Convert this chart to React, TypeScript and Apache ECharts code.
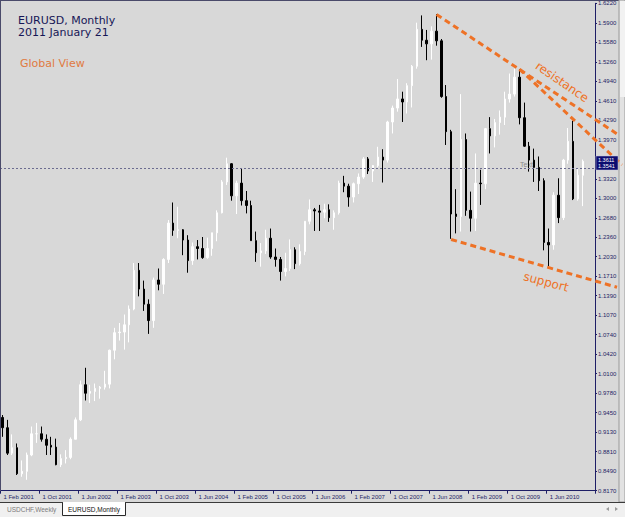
import React, { useEffect, useRef } from 'react';
import * as echarts from 'echarts';

// ---------- data ----------
const monthNames = ['Jan', 'Feb', 'Mar', 'Apr', 'May', 'Jun', 'Jul', 'Aug', 'Sep', 'Oct', 'Nov', 'Dec'];
// monthly bars from Feb 2001, two empty slots at the right edge
const categories: string[] = [];
for (let i = 0; i < 122; i++) {
  const m = (1 + i) % 12;
  const y = 2001 + Math.floor((1 + i) / 12);
  categories.push(`1 ${monthNames[m]} ${y}`);
}

const opens = [
  0.9380, 0.9210, 0.8790, 0.8880, 0.8450, 0.8490, 0.8760, 0.9110, 0.9110, 0.9020, 0.8920,
  0.8890, 0.8600, 0.8700, 0.8720, 0.9020, 0.9340, 0.9920, 0.9780, 0.9810, 0.9860, 0.9880, 0.9930,
  1.0490, 1.0780, 1.0790, 1.0910, 1.1170, 1.1810, 1.1500, 1.1250, 1.0980, 1.1650, 1.1580, 1.1990,
  1.2590, 1.2470, 1.2480, 1.2310, 1.1970, 1.2200, 1.2170, 1.2020, 1.2170, 1.2430, 1.2760, 1.3270,
  1.3570, 1.3040, 1.3250, 1.2960, 1.2880, 1.2300, 1.2100, 1.2130, 1.2340, 1.2030, 1.1990, 1.1790,
  1.1840, 1.2150, 1.1920, 1.2120, 1.2620, 1.2810, 1.2790, 1.2770, 1.2810, 1.2680, 1.2760, 1.3250,
  1.3200, 1.3020, 1.3240, 1.3350, 1.3650, 1.3450, 1.3540, 1.3680, 1.3630, 1.4260, 1.4490, 1.4640,
  1.4590, 1.4860, 1.5180, 1.5790, 1.5610, 1.5550, 1.5760, 1.5600, 1.4680, 1.4100, 1.2740, 1.2700,
  1.3970, 1.2800, 1.2670, 1.3250, 1.3240, 1.4150, 1.4030, 1.4250, 1.4340, 1.4640, 1.4720, 1.5000,
  1.4330, 1.3860, 1.3630, 1.3510, 1.3290, 1.2270, 1.2230, 1.3050, 1.2680, 1.3630, 1.3940, 1.2990,
  1.3380,
];
const highs = [
  0.9420, 0.9340, 0.9100, 0.8950, 0.8670, 0.8800, 0.9230, 0.9290, 0.9230, 0.9100, 0.9060,
  0.9030, 0.8770, 0.8840, 0.9050, 0.9380, 0.9990, 1.0200, 0.9920, 0.9940, 0.9900, 1.0150, 1.0500,
  1.0860, 1.0940, 1.1080, 1.1230, 1.1930, 1.1930, 1.1640, 1.1330, 1.1690, 1.1840, 1.2010, 1.2640,
  1.2930, 1.2860, 1.2490, 1.2390, 1.2270, 1.2310, 1.2360, 1.2350, 1.2430, 1.2800, 1.3300, 1.3670,
  1.3580, 1.3290, 1.3490, 1.3120, 1.2960, 1.2450, 1.2260, 1.2480, 1.2500, 1.2170, 1.2030, 1.2100,
  1.2320, 1.2190, 1.2240, 1.2620, 1.2980, 1.2840, 1.2890, 1.2910, 1.2900, 1.2800, 1.3290, 1.3370,
  1.3240, 1.3260, 1.3410, 1.3680, 1.3680, 1.3550, 1.3850, 1.3810, 1.4280, 1.4530, 1.4970, 1.4760,
  1.4900, 1.5200, 1.5900, 1.6020, 1.5780, 1.5840, 1.6040, 1.5630, 1.4870, 1.4130, 1.3150, 1.4720,
  1.4070, 1.3110, 1.3740, 1.3470, 1.4160, 1.4340, 1.4310, 1.4450, 1.4760, 1.5060, 1.5140, 1.5130,
  1.4580, 1.3930, 1.3820, 1.3690, 1.3330, 1.2500, 1.3100, 1.3330, 1.3650, 1.4160, 1.4280, 1.3500,
  1.3640,
];
const lows = [
  0.9060, 0.8760, 0.8760, 0.8430, 0.8400, 0.8350, 0.8740, 0.8960, 0.8980, 0.8760, 0.8760,
  0.8590, 0.8560, 0.8620, 0.8690, 0.9020, 0.9320, 0.9660, 0.9620, 0.9650, 0.9690, 0.9840, 0.9860,
  1.0340, 1.0650, 1.0500, 1.0620, 1.1150, 1.1380, 1.1140, 1.0760, 1.0860, 1.1480, 1.1420, 1.1930,
  1.2380, 1.2340, 1.2060, 1.1770, 1.1900, 1.1990, 1.2000, 1.2000, 1.2050, 1.2290, 1.2750, 1.3220,
  1.2960, 1.2740, 1.2880, 1.2750, 1.2300, 1.1950, 1.1870, 1.2080, 1.2000, 1.1870, 1.1640, 1.1710,
  1.1800, 1.1830, 1.1890, 1.2060, 1.2570, 1.2460, 1.2460, 1.2670, 1.2610, 1.2480, 1.2730, 1.3100,
  1.2860, 1.2930, 1.3070, 1.3320, 1.3400, 1.3270, 1.3510, 1.3260, 1.3590, 1.4070, 1.4430, 1.4260,
  1.4400, 1.4500, 1.5140, 1.5500, 1.5280, 1.5290, 1.5520, 1.4660, 1.3880, 1.2330, 1.2420, 1.2450,
  1.2710, 1.2450, 1.2460, 1.2890, 1.3150, 1.3740, 1.3840, 1.4050, 1.4210, 1.4580, 1.4680, 1.4220,
  1.3850, 1.3440, 1.3270, 1.3120, 1.2140, 1.1880, 1.2150, 1.2590, 1.2640, 1.3570, 1.2970, 1.2960,
  1.2870,
];
const closes = [
  0.9210, 0.8790, 0.8880, 0.8450, 0.8490, 0.8760, 0.9110, 0.9110, 0.9020, 0.8920, 0.8890,
  0.8600, 0.8700, 0.8720, 0.9020, 0.9340, 0.9920, 0.9780, 0.9810, 0.9860, 0.9880, 0.9930, 1.0490,
  1.0780, 1.0790, 1.0910, 1.1170, 1.1810, 1.1500, 1.1250, 1.0980, 1.1650, 1.1580, 1.1990, 1.2590,
  1.2470, 1.2480, 1.2310, 1.1970, 1.2200, 1.2170, 1.2020, 1.2170, 1.2430, 1.2760, 1.3270, 1.3570,
  1.3040, 1.3250, 1.2960, 1.2880, 1.2300, 1.2100, 1.2130, 1.2340, 1.2030, 1.1990, 1.1790, 1.1840,
  1.2150, 1.1920, 1.2120, 1.2620, 1.2810, 1.2790, 1.2770, 1.2810, 1.2680, 1.2760, 1.3250, 1.3200,
  1.3020, 1.3240, 1.3350, 1.3650, 1.3450, 1.3540, 1.3680, 1.3630, 1.4260, 1.4490, 1.4640, 1.4590,
  1.4860, 1.5180, 1.5790, 1.5610, 1.5550, 1.5760, 1.5600, 1.4680, 1.4100, 1.2740, 1.2700, 1.3970,
  1.2800, 1.2670, 1.3250, 1.3240, 1.4150, 1.4030, 1.4250, 1.4340, 1.4640, 1.4720, 1.5000, 1.4330,
  1.3860, 1.3630, 1.3510, 1.3290, 1.2270, 1.2230, 1.3050, 1.2680, 1.3630, 1.3940, 1.2990, 1.3380,
  1.3611,
];

const yMin = 0.817;
const yMax = 1.622;
const yStep = 0.0322;
// the tick at 1.3644 is hidden under the price box in the reference
const yTickLabels = [
  '0.8170', '0.8490', '0.8810', '0.9130', '0.9450', '0.9780', '1.0100', '1.0420', '1.0740',
  '1.1070', '1.1390', '1.1710', '1.2030', '1.2360', '1.2680', '1.3000', '1.3320', '',
  '1.3970', '1.4290', '1.4610', '1.4940', '1.5260', '1.5580', '1.5900', '1.6220',
];

const bidPrice = '1.3611';
const hLinePrice = 1.3541;

// trend lines (anchor points in data space)
const resistanceOuter: [string, number][] = [['1 Jul 2008', 1.6035], ['1 Nov 2010', 1.4543]];
const resistanceInner: [string, number][] = [['1 Dec 2009', 1.5134], ['1 Nov 2010', 1.4307]];
const supportLine: [string, number][] = [['1 Oct 2008', 1.2319], ['1 Jun 2010', 1.1855]];

const NAVY = '#1e1e66';
const ORANGE = '#ee7226';
const LABEL_FONT = 'Liberation Sans';

export default function App() {
  const ref = useRef<HTMLDivElement>(null);

  useEffect(() => {
    if (!ref.current) return;
    const chart = echarts.init(ref.current, undefined, { renderer: 'svg' });

    const ohlc = opens.map((o, i) => [o, closes[i], lows[i], highs[i]]);
    const showTick = (idx: number) => idx % 8 === 0 && idx <= 112;

    chart.setOption({
      animation: false,
      backgroundColor: '#d8d8d8',
      grid: { left: 0, right: 30, top: 3.3, bottom: 26.3 },
      xAxis: {
        type: 'category',
        data: categories,
        boundaryGap: true,
        axisLine: { show: true, lineStyle: { color: NAVY, width: 1 } },
        axisTick: { show: true, interval: showTick, length: 3, lineStyle: { color: NAVY } },
        axisLabel: {
          show: true,
          interval: showTick,
          align: 'left',
          margin: 3,
          fontSize: 6,
          fontFamily: LABEL_FONT,
          color: NAVY,
          padding: [0, 0, 0, 1],
        },
        splitLine: { show: false },
      },
      yAxis: {
        type: 'value',
        position: 'right',
        min: yMin,
        max: yMax,
        interval: yStep,
        axisLine: { show: true, lineStyle: { color: NAVY, width: 1 } },
        axisTick: { show: true, length: 2, lineStyle: { color: NAVY } },
        axisLabel: {
          show: true,
          margin: 3,
          fontSize: 6,
          fontFamily: LABEL_FONT,
          color: NAVY,
          formatter: (v: number) => {
            const k = Math.round((v - yMin) / yStep);
            return yTickLabels[k] ?? '';
          },
        },
        splitLine: { show: false },
      },
      series: [
        {
          type: 'candlestick',
          data: ohlc,
          barWidth: 2,
          itemStyle: {
            color: '#ffffff',
            color0: '#000000',
            borderColor: '#ffffff',
            borderColor0: '#000000',
            borderWidth: 1,
          },
          markLine: {
            silent: true,
            symbol: ['none', 'none'],
            label: { show: false },
            lineStyle: { color: '#6c6c90', type: [2, 2], width: 1 },
            data: [{ yAxis: hLinePrice }],
          },
        },
      ],
    });

    const px = (p: [string, number]) =>
      chart.convertToPixel({ xAxisIndex: 0, yAxisIndex: 0 }, [categories.indexOf(p[0]), p[1]]) as number[];
    const extended = (pts: [string, number][], endX: number) => {
      const a = px(pts[0]);
      const b = px(pts[1]);
      const slope = (b[1] - a[1]) / (b[0] - a[0]);
      return { x1: a[0], y1: a[1], x2: endX, y2: a[1] + (endX - a[0]) * slope };
    };
    const dashStyle = { stroke: ORANGE, lineWidth: 3, lineDash: [6, 4] };

    const graphics: any[] = [
      // plot frame (left / top)
      { type: 'line', z: 20, shape: { x1: 0.5, y1: 0, x2: 0.5, y2: 491 }, style: { stroke: '#4a4a6a', lineWidth: 1 } },
      { type: 'line', z: 20, shape: { x1: 0, y1: 0.5, x2: 619, y2: 0.5 }, style: { stroke: '#4a4a6a', lineWidth: 1 } },
      // right scrollbar strip
      { type: 'rect', z: 20, shape: { x: 619, y: 0, width: 6, height: 502 }, style: { fill: '#e2e2e2', stroke: '#9a9a9a', lineWidth: 1 } },
      { type: 'rect', z: 21, shape: { x: 620, y: 1, width: 5, height: 96 }, style: { fill: '#f2f2f2' } },
      // tab bar
      { type: 'rect', z: 20, shape: { x: 0, y: 502, width: 625, height: 15 }, style: { fill: '#f0f0f0' } },
      { type: 'line', z: 21, shape: { x1: 0, y1: 502.5, x2: 625, y2: 502.5 }, style: { stroke: '#3a3a3a', lineWidth: 1 } },
      { type: 'rect', z: 21, shape: { x: 62.5, y: 502.5, width: 63, height: 13 }, style: { fill: '#ffffff', stroke: '#2a2a2a', lineWidth: 1 } },
      { type: 'line', z: 22, shape: { x1: 63, y1: 502.5, x2: 125, y2: 502.5 }, style: { stroke: '#ffffff', lineWidth: 1 } },
      { type: 'text', z: 22, x: 7, y: 509, style: { text: 'USDCHF,Weekly', fill: '#7c7c7c', fontSize: 6.5, fontFamily: LABEL_FONT, verticalAlign: 'middle' } },
      { type: 'text', z: 22, x: 68, y: 509, style: { text: 'EURUSD,Monthly', fill: '#111111', fontSize: 6.5, fontFamily: LABEL_FONT, verticalAlign: 'middle' } },
      { type: 'polygon', z: 22, shape: { points: [[606, 509], [609, 507], [609, 511]] }, style: { fill: '#9a9a9a' } },
      { type: 'polygon', z: 22, shape: { points: [[618, 509], [615, 507], [615, 511]] }, style: { fill: '#9a9a9a' } },
      // titles
      { type: 'text', z: 20, x: 18, y: 20, style: { text: 'EURUSD, Monthly', fill: '#161656', fontSize: 11, fontFamily: 'DejaVu Sans', verticalAlign: 'middle' } },
      { type: 'text', z: 20, x: 18, y: 32, style: { text: '2011 January 21', fill: '#161656', fontSize: 11, fontFamily: 'DejaVu Sans', verticalAlign: 'middle' } },
      { type: 'text', z: 20, x: 20, y: 63, style: { text: 'Global View', fill: '#e07a42', fontSize: 11, fontFamily: 'DejaVu Sans', verticalAlign: 'middle' } },
      // object label near the horizontal line
      { type: 'text', z: 1, x: 520, y: 164.5, style: { text: 'Text', fill: '#8a8a8a', fontSize: 7, fontFamily: LABEL_FONT, verticalAlign: 'middle' } },
    ];

    const r1 = extended(resistanceOuter, 619);
    const r2 = extended(resistanceInner, 622);
    const s1 = extended(supportLine, 617);
    graphics.push(
      { type: 'line', z: 30, shape: r1, style: dashStyle },
      { type: 'line', z: 30, shape: r2, style: dashStyle },
      { type: 'line', z: 30, shape: s1, style: dashStyle },
      { type: 'text', z: 30, x: 562, y: 82, rotation: -0.6, style: { text: 'resistance', fill: ORANGE, fontSize: 12, fontFamily: 'DejaVu Sans', align: 'center', verticalAlign: 'middle' } },
      { type: 'text', z: 30, x: 546, y: 282, rotation: -0.26, style: { text: 'support', fill: ORANGE, fontSize: 12, fontFamily: 'DejaVu Sans', align: 'center', verticalAlign: 'middle' } },
    );

    // price box on the axis (bid above, line level below)
    const yLine = px(['1 Jan 2011', hLinePrice])[1];
    graphics.push(
      { type: 'rect', z: 40, shape: { x: 596, y: yLine - 9.5, width: 22, height: 14 }, style: { fill: '#0c0c70', stroke: '#c8c8e0', lineWidth: 0.5 } },
      { type: 'text', z: 41, x: 598, y: yLine - 5.8, style: { text: bidPrice, fill: '#ffffff', fontSize: 5.5, fontFamily: LABEL_FONT, verticalAlign: 'middle' } },
      { type: 'text', z: 41, x: 598, y: yLine + 0.8, style: { text: hLinePrice.toFixed(4), fill: '#ffffff', fontSize: 5.5, fontFamily: LABEL_FONT, verticalAlign: 'middle' } },
    );

    chart.setOption({ graphic: graphics });

    return () => {
      chart.dispose();
    };
  }, []);

  return (
    <div
      ref={ref}
      style={{ position: 'fixed', left: 0, top: 0, width: 625, height: 517 }}
    />
  );
}
